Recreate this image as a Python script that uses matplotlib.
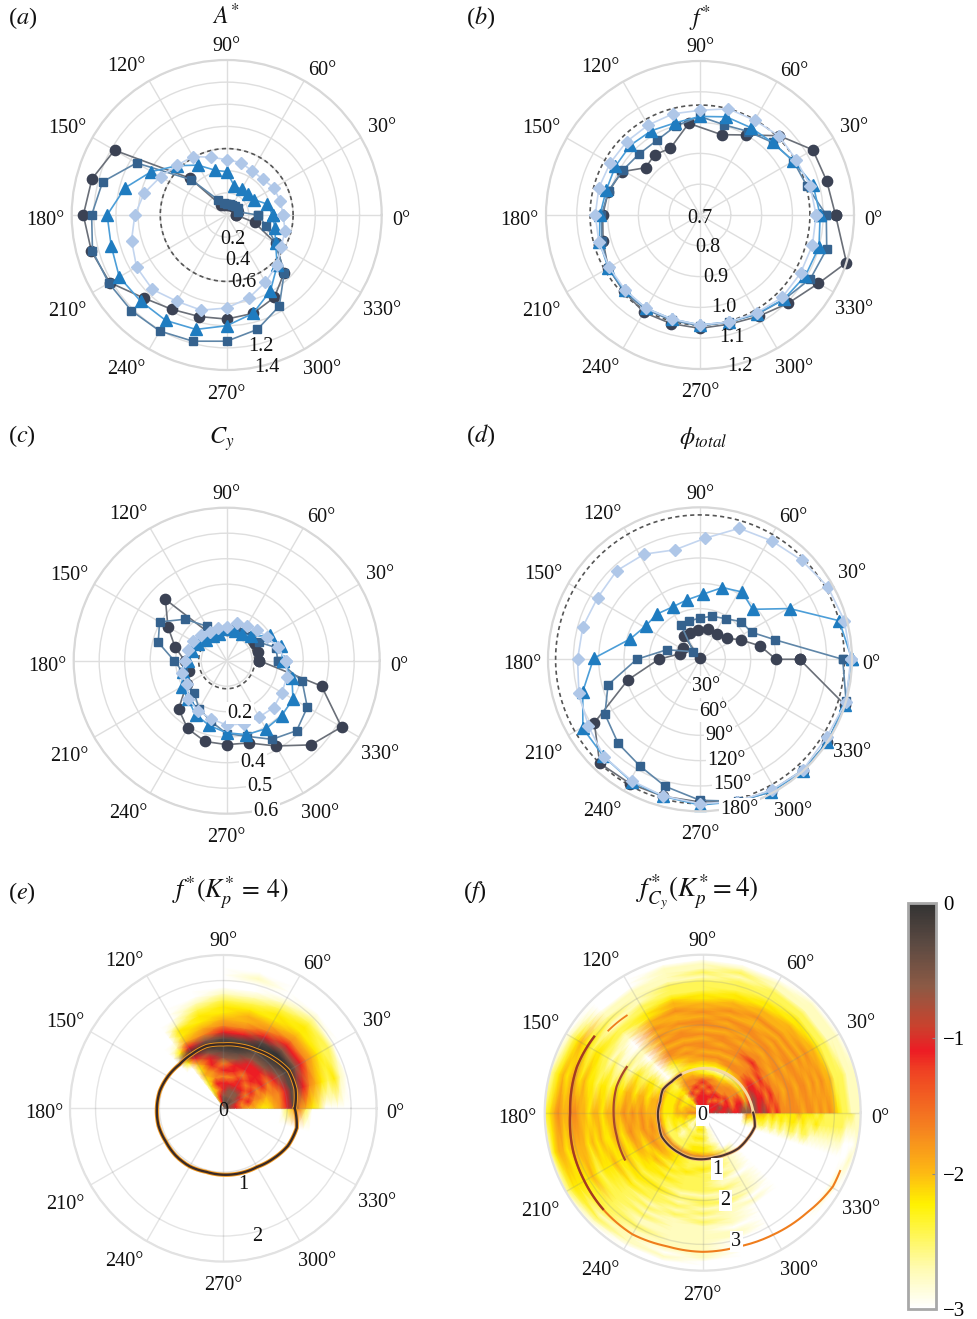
import numpy as np
import matplotlib
matplotlib.use("Agg")
import matplotlib.pyplot as plt
from matplotlib.colors import LinearSegmentedColormap
from matplotlib.cm import ScalarMappable
from matplotlib.colors import Normalize

plt.rcParams['font.family'] = ['Liberation Serif', 'DejaVu Serif']
plt.rcParams['mathtext.fontset'] = 'stix'

W, H = 977, 1319

# ===== Data =====
theta_15 = list(range(0, 360, 15))
angle_labels = [0, 30, 60, 90, 120, 150, 180, 210, 240, 270, 300, 330]
# where the angle labels sit, in units of the panel radius
label_dx = [1.125, 1.0, .615, 0, -.645, -1.03, -1.17, -1.03, -.645, 0, .613, 1.0]
label_dy = [-.035, .565, .935, 1.085, .955, .56, -.035, -.625, -1.0, -1.155, -1.0, -.615]

# (a) A*
a_circle = [.085, .11, .11, .10, .09, .09, .09, .09, .10, .47, 1.17, 1.26, 1.295, 1.265, 1.22, 1.06,
            .985, .95, .94, .92, .86, .735, .51, .26]
a_square = [.28, .11, .12, .11, .10, .10, .10, .11, .16, .45, .94, 1.16, 1.22, 1.255, 1.23, 1.22,
            1.21, 1.18, 1.14, 1.07, .95, .735, .51, .37]
a_triangle = [.415, .38, .28, .27, .27, .27, .39, .42, .52, .63, .785, .95, 1.08, 1.08, 1.12, 1.10,
              1.10, 1.07, 1.0, .92, .79, .645, .51, .45]
a_diamond = [.51, .50, .49, .46, .46, .49, .50, .54, .61, .635, .69, .77, .83, .89, .94, .95,
             .90, .89, .84, .775, .70, .64, .57, .545]

# (b) f*
b_circle_theta = [0, 15, 30, 45, 60, 75, 97, 114, 127, 139, 151, 166, 180, 195, 210, 225, 240, 255,
                  270, 285, 300, 315, 330, 342]
b_circle = [1.14, 1.126, 1.123, 1.064, 1.0, .97, 1.0, .937, .945, .934, .99, 1.007, 1.016, 1.026,
            1.044, 1.05, 1.065, 1.065, 1.068, 1.067, 1.08, 1.105, 1.144, 1.20]
b_square = [1.11, 1.06, 1.05, 1.033, 1.013, 1.003, 1.02, 1.0, .98, .98, .99, 1.007, 1.02, 1.03,
            1.044, 1.05, 1.054, 1.054, 1.06, 1.06, 1.072, 1.087, 1.114, 1.126]
b_triangle = [1.09, 1.08, 1.05, 1.033, 1.028, 1.03, 1.02, 1.01, 1.016, 1.02, 1.017, 1.015, 1.025,
              1.038, 1.044, 1.046, 1.05, 1.05, 1.057, 1.06, 1.07, 1.086, 1.095, 1.10]
b_diamond = [1.077, 1.07, 1.06, 1.063, 1.055, 1.057, 1.04, 1.04, 1.037, 1.037, 1.037, 1.04, 1.04,
             1.04, 1.04, 1.044, 1.05, 1.05, 1.057, 1.06, 1.067, 1.078, 1.077, 1.078]

# (c) Cy
c_circle = [.128, .128, .128, .13, .125, .125, .12, .115, .115, .34, .266, .21, .165, .155, .18,
            .267, .307, .328, .329, .334, .386, .467, .52, .385]
c_square = [.20, .20, .145, .13, .13, .13, .125, .12, .156, .23, .304, .278, .206, .177, .184, .18,
            .217, .245, .286, .307, .356, .388, .365, .306]
c_triangle = [.22, .22, .198, .135, .12, .12, .125, .11, .11, .115, .13, .14, .15, .176, .204, .215,
              .244, .263, .283, .30, .308, .305, .30, .265]
c_diamond = [.233, .207, .184, .17, .158, .155, .134, .133, .13, .144, .154, .156, .164, .18, .182,
             .212, .227, .235, .253, .256, .255, .26, .25, .245]

# (d) phi_total
d_circle_theta = [0, 0, 12.5, 25, 37.5, 55.6, 74.5, 93, 110, 125, 100, 146.6, 165, 180, 196, 211,
                  226, 240.7, 255, 270, 284.5, 298, 312.6, 327, 342.5]
d_circle = [118, 90, 73, 54, 41, 36, 37, 35, 33, 34, 2, 24, 25, 49, 89, 146, 171, 169, 168, 169,
            174, 178, 180, 180, 180]
d_square_theta = [0, 14.5, 27.6, 42.6, 57.5, 74, 90, 105.5, 119, 131, 164, 180, 195.5, 210, 225.8,
                  240.6, 254.7, 270, 285, 298.6, 313, 327, 344]
d_square = [169, 92, 69, 66, 57, 53, 49, 47, 46.5, 12, 41, 75, 113, 130, 139, 145, 156, 167, 174,
            177, 179, 180, 180]
d_triangle_theta = [0, 15.5, 29.5, 43.5, 58, 72.7, 87.7, 102.7, 117.7, 133.7, 148.5, 163.7, 179.5,
                    195.4, 210.5, 225, 240.8, 255, 270, 284.5, 298, 312.6, 327, 342.5]
d_triangle = [180, 171, 122, 86, 94, 89, 77, 72, 70, 74, 75.5, 86, 126, 144, 161, 162, 166, 168,
              172.6, 174, 178, 180, 180, 180]
d_diamond_theta = [0, 15, 29.7, 44.3, 58.8, 73.3, 87.6, 102.9, 118, 133.3, 149, 164.4, 180, 195.7,
                   210.8, 225.4, 240.6, 255, 270, 284.5, 298.7, 312.8, 328.6, 343.8]
d_diamond = [178.5, 177, 174, 168, 164, 162, 143.5, 133, 141, 144, 141.5, 144, 145, 149, 154, 162,
             165, 167.6, 171, 174, 176.6, 179, 176, 180]

# (e) spectrum levels, rows = theta, columns = frequency
levels = [-3, -2.75, -2.45, -2.2, -1.95, -1.7, -1.1, -0.6, -0.3, 0]
e_freq = [i / 10 for i in range(23)]
e_theta = [-15, -0.5, 0, 15, 30, 45, 60, 75, 90, 105, 120, 128, 135]
e_levels = [
    [0, 0, 0, 0, 0, 0, 0, 0, 0, 0, 0, 0, 0, 0, 0, 0, 0, 0, 0, 0, 0, 0, 0],
    [0, 0, 0, 0, 0, 0, 0, 0, 0, 0, 2, 4, 5, 2, 0, 0, 0, 0, 0, 0, 0, 0, 0],
    [8, 7, 6, 5, 4, 4, 3, 3, 4, 5, 6, 8, 5, 4, 3, 2, 0, 0, 0, 0, 0, 0, 0],
    [8, 7, 6, 5, 6, 5, 5, 4, 5, 5, 6, 8, 7, 6, 5, 4, 3, 2, 3, 1, 0, 0, 0],
    [8, 7, 7, 6, 5, 6, 5, 6, 5, 6, 7, 8, 9, 7, 6, 5, 4, 3, 2, 2, 0, 0, 0],
    [8, 8, 7, 7, 6, 5, 6, 6, 6, 7, 8, 9, 9, 7, 6, 5, 4, 3, 3, 2, 1, 0, 0],
    [8, 8, 7, 7, 6, 6, 5, 6, 6, 7, 8, 9, 8, 6, 5, 4, 3, 3, 2, 1, 0, 0, 0],
    [8, 8, 7, 7, 6, 5, 6, 6, 7, 8, 9, 8, 6, 5, 4, 4, 3, 2, 1, 0, 0, 1, 0],
    [8, 8, 7, 6, 6, 5, 6, 5, 7, 8, 9, 8, 6, 5, 4, 3, 3, 2, 1, 0, 0, 0, 0],
    [7, 6, 6, 5, 6, 5, 5, 6, 6, 7, 9, 7, 5, 4, 3, 3, 2, 1, 0, 0, 0, 0, 0],
    [5, 4, 4, 3, 3, 3, 4, 3, 4, 6, 9, 6, 4, 3, 3, 1, 0, 0, 0, 0, 0, 0, 0],
    [0, 0, 0, 0, 0, 0, 0, 0, 0, 3, 7, 3, 1, 0, 0, 0, 0, 0, 0, 0, 0, 0, 0],
    [0, 0, 0, 0, 0, 0, 0, 0, 0, 0, 0, 0, 0, 0, 0, 0, 0, 0, 0, 0, 0, 0, 0],
]
e_ridge_theta = theta_15 + [360]
e_ridge = [1.12, 1.17, 1.18, 1.11, 1.05, 1.02, 1.0, 1.01, .98, .97, 1.0, 1.03, 1.04, 1.05, 1.04,
           1.05, 1.05, 1.03, 1.04, 1.05, 1.06, 1.11, 1.17, 1.19, 1.12]

# (f) spectrum levels
f_freq = [i / 10 for i in range(37)]
f_theta = [-30, -18, -12, -6, -0.5, 0, 15, 30, 45, 60, 75, 90, 105, 120, 135, 150, 165, 180, 195,
           210, 225, 240, 255, 270, 285, 300, 315, 330]
f_levels = [
    [0] * 34 + [1, 0, 0],
    [0] * 35 + [1, 0],
    [0] * 10 + [2, 1, 1, 2, 2, 1, 2, 1, 2, 1, 2, 2, 1, 2, 2, 1, 1, 1, 1, 1, 1, 1, 1, 0, 0, 0, 1],
    [0] * 10 + [4, 3, 3, 3, 3, 2, 3, 2, 3, 2, 3, 3, 2, 3, 2, 2, 3, 2, 2, 2, 2, 2, 2, 1, 1, 1, 1],
    [0] * 10 + [5, 5, 4, 4, 4, 3, 4, 3, 3, 3, 3, 3, 4, 3, 3, 3, 2, 3, 2, 2, 2, 2, 2, 2, 2, 1, 1],
    [7, 7, 6, 7, 6, 6, 7, 6, 6, 7, 7, 7, 7, 6, 7, 6, 5, 6, 5, 5, 5, 5, 5, 4, 5, 5, 4, 5, 4, 5, 4, 3, 2, 2, 1, 1, 1],
    [7, 7, 6, 6, 7, 6, 6, 5, 6, 6, 4, 6, 7, 6, 6, 5, 6, 5, 5, 4, 5, 5, 4, 5, 5, 4, 5, 4, 5, 4, 4, 2, 2, 2, 1, 1, 1],
    [7, 6, 6, 6, 6, 5, 6, 5, 5, 5, 3, 5, 6, 6, 5, 6, 5, 5, 4, 5, 5, 4, 5, 5, 4, 5, 4, 5, 4, 4, 3, 2, 2, 1, 1, 1, 0],
    [7, 6, 6, 6, 5, 6, 5, 5, 5, 4, 2, 4, 5, 5, 5, 5, 6, 5, 5, 4, 5, 5, 4, 5, 4, 5, 4, 4, 4, 3, 3, 2, 2, 1, 1, 1, 0],
    [7, 6, 6, 5, 6, 6, 5, 5, 4, 3, 1, 3, 5, 5, 4, 5, 5, 5, 4, 5, 4, 5, 5, 4, 4, 5, 4, 4, 3, 3, 2, 2, 2, 1, 1, 0, 0],
    [7, 7, 6, 6, 6, 5, 6, 5, 5, 3, 1, 3, 4, 5, 4, 5, 4, 5, 5, 4, 5, 4, 5, 4, 5, 4, 4, 3, 3, 2, 2, 2, 1, 2, 1, 0, 0],
    [7, 7, 6, 6, 6, 6, 5, 6, 5, 3, 2, 3, 4, 5, 4, 5, 5, 4, 5, 4, 5, 5, 4, 5, 4, 4, 3, 3, 2, 2, 2, 1, 2, 1, 1, 0, 0],
    [6, 6, 6, 6, 6, 5, 6, 5, 5, 4, 3, 3, 4, 4, 5, 4, 5, 4, 5, 5, 4, 5, 4, 4, 5, 4, 4, 3, 2, 2, 2, 1, 1, 1, 1, 0, 0],
    [5, 5, 6, 6, 5, 6, 5, 5, 5, 4, 4, 2, 2, 3, 4, 5, 5, 4, 5, 4, 5, 4, 5, 4, 4, 3, 3, 2, 2, 1, 1, 1, 1, 0, 0, 0, 0],
    [3, 3, 2, 3, 3, 2, 3, 3, 2, 2, 3, 0, 0, 0, 0, 0, 1, 0, 0, 1, 1, 0, 0, 0, 1, 1, 2, 2, 1, 1, 2, 1, 1, 0, 0, 0, 0],
    [4, 3, 4, 4, 3, 3, 4, 3, 3, 3, 4, 3, 2, 3, 3, 2, 2, 3, 2, 1, 2, 1, 1, 2, 1, 2, 2, 3, 3, 2, 3, 3, 4, 3, 2, 1, 0],
    [5, 5, 4, 4, 4, 3, 4, 3, 3, 3, 5, 4, 4, 3, 4, 4, 3, 4, 4, 3, 3, 3, 2, 3, 3, 2, 3, 3, 4, 3, 4, 4, 3, 4, 3, 2, 1],
    [5, 5, 5, 5, 4, 4, 4, 3, 3, 3, 5, 4, 4, 4, 5, 4, 5, 4, 5, 4, 4, 4, 4, 3, 4, 4, 3, 4, 4, 5, 5, 4, 4, 5, 4, 3, 2],
    [3, 4, 4, 3, 4, 3, 3, 3, 2, 3, 5, 4, 5, 4, 5, 4, 4, 5, 4, 3, 4, 4, 3, 3, 4, 3, 4, 3, 4, 4, 4, 4, 3, 4, 4, 3, 1],
    [2, 2, 3, 3, 2, 3, 2, 3, 2, 2, 5, 4, 4, 5, 4, 3, 4, 4, 3, 3, 4, 3, 3, 4, 3, 3, 3, 2, 3, 4, 3, 3, 3, 3, 3, 2, 1],
    [2, 2, 1, 1, 1, 2, 1, 1, 2, 2, 5, 3, 4, 4, 3, 4, 3, 3, 3, 2, 3, 3, 2, 3, 2, 2, 2, 2, 2, 2, 2, 2, 2, 1, 2, 1, 0],
    [1, 1, 2, 2, 1, 2, 2, 2, 2, 2, 5, 3, 3, 3, 2, 3, 2, 3, 2, 2, 3, 2, 2, 2, 1, 2, 1, 2, 1, 1, 2, 1, 1, 1, 1, 0, 0],
    [2, 2, 2, 2, 3, 2, 3, 2, 3, 3, 5, 2, 2, 2, 3, 2, 2, 2, 2, 1, 2, 1, 2, 1, 2, 1, 1, 1, 1, 1, 1, 1, 1, 0, 1, 0, 0],
    [3, 2, 3, 2, 3, 2, 3, 2, 3, 3, 5, 2, 2, 3, 2, 2, 2, 2, 2, 1, 2, 2, 1, 2, 1, 2, 1, 1, 1, 1, 1, 1, 1, 1, 0, 0, 0],
    [0, 0, 0, 0, 1, 1, 1, 1, 2, 2, 4, 1, 2, 2, 1, 2, 1, 1, 2, 1, 1, 2, 1, 1, 1, 1, 1, 0, 1, 1, 0, 0, 0, 0, 0, 0, 0],
    [0, 0, 0, 0, 0, 0, 0, 0, 0, 0, 2, 1, 1, 1, 1, 1, 0, 1, 1, 1, 1, 1, 0, 1, 0, 0, 0, 0, 0, 0, 0, 0, 0, 0, 0, 0, 0],
    [0] * 37,
    [0] * 34 + [1, 0, 0],
]
f_inner_theta = [120, 135, 150, 165, 180, 195, 210, 225, 240, 255, 270, 285, 300, 315, 330, 345, 360]
f_inner_r = [1.0, 1.0, 1.05, 1.0, 1.02, 1.03, 1.08, 1.07, 1.06, 1.07, 1.06, 1.05, 1.09, 1.15,
             1.18, 1.23, 1.15]
f_pale_theta = [0, 15, 30, 45, 60, 75, 90, 105, 120]
f_pale_r = [1.15, 1.11, 1.08, 1.06, 1.04, 1.02, 1.01, 1.0, 1.0]
f_mid_theta = [149, 163, 180, 195, 211]
f_mid_r = [2.02, 2.05, 2.03, 2.03, 2.07]
f_outer_theta = [145, 160, 180, 197, 209, 224, 240, 255, 270, 285.6, 300, 316, 330.5, 337]
f_outer_r = [3.02, 3.05, 3.02, 3.08, 3.11, 3.16, 3.2, 3.15, 3.17, 3.16, 3.21, 3.29, 3.41, 3.4]
f_arc_theta = [128, 139]
f_arc_r = [2.81, 2.85]

# ===== Styles =====
circle_style = dict(color='#6a6f78', marker='o', mfc='#3b4254', mec='#3b4254', ms=7.4, lw=1.2)
square_style = dict(color='#5f86a8', marker='s', mfc='#35628e', mec='#35628e', ms=5.6, lw=1.2)
triangle_style = dict(color='#4c9ed8', marker='^', mfc='#1f7cc0', mec='#1f7cc0', ms=8.0, lw=1.2)
diamond_style = dict(color='#c3d5ef', marker='D', mfc='#afc7e8', mec='#afc7e8', ms=5.9, lw=1.2)


def polar_axes(cx, cy, R):
    ax = fig.add_axes([(cx - R) / W, 1 - (cy + R) / H, 2 * R / W, 2 * R / H], polar=True)
    ax.set_xticks(np.deg2rad(angle_labels))
    ax.set_xticklabels([])
    ax.grid(True, color='#dedede', lw=1.0)
    ax.spines['polar'].set_color('#d8d8d8')
    ax.spines['polar'].set_linewidth(1.6)
    ax.tick_params(length=0)
    for a, dx, dy in zip(angle_labels, label_dx, label_dy):
        ax.text(0.5 + 0.5 * dx, 0.5 + 0.5 * dy, f"{a}°", transform=ax.transAxes,
                ha='center', va='center', fontsize=14.5, color='#111111')
    return ax


def closed(theta, r):
    t = np.deg2rad(list(theta) + [theta[0]])
    return t, list(r) + [r[0]]


def line_panel(ax, rmin, rmax, rings, series, dashed, labels, bbox=False):
    ax.set_ylim(rmin, rmax)
    ax.set_yticks(rings)
    ax.set_yticklabels([])
    for theta, r, style in series:
        t, v = closed(theta, r)
        ax.plot(t, v, clip_on=False, **style)
    full = np.linspace(0, 2 * np.pi, 200)
    ax.plot(full, [dashed] * 200, color='#555555', lw=1.2, ls=(0, (2.5, 2)), zorder=1.8)
    radial_labels(ax, labels, bbox)


def radial_labels(ax, labels, bbox=False):
    for value, text in labels:
        kw = dict(bbox=dict(fc='white', ec='none', pad=0.8)) if bbox else {}
        ax.annotate(text, (np.deg2rad(285), value), xytext=(0, -2.2), textcoords='offset points',
                    ha='center', va='center', fontsize=14.5, color='#111111', zorder=10, **kw)


def arc(ax, theta, r, **kw):
    # let the segment follow the polar grid instead of a straight chord
    line, = ax.plot(np.deg2rad(theta), r, **kw)
    line.get_path()._interpolation_steps = 16
    return line


def faint_grid(ax):
    ax.grid(True, color='#888888', alpha=0.22, lw=1.0)
    ax.spines['polar'].set_color('#e2e2e2')


def label(x, y, s, size=15, ha='left'):
    fig.text(x / W, 1 - y / H, s, ha=ha, va='center', fontsize=size, color='#111111')


# ===== Figure =====
fig = plt.figure(figsize=(W / 100, H / 100), dpi=100)

ax_a = polar_axes(226.7, 215, 155)
line_panel(ax_a, 0, 1.4, [.2, .4, .6, .8, 1.0, 1.2, 1.4],
           [(theta_15, a_circle, circle_style), (theta_15, a_square, square_style),
            (theta_15, a_triangle, triangle_style), (theta_15, a_diamond, diamond_style)],
           0.6, [(.2, '0.2'), (.4, '0.4'), (.6, '0.6'), (1.2, '1.2'), (1.4, '1.4')])

ax_b = polar_axes(700, 215, 154)
line_panel(ax_b, 0.7, 1.2, [.8, .9, 1.0, 1.1, 1.2],
           [(b_circle_theta, b_circle, circle_style), (theta_15, b_square, square_style),
            (theta_15, b_triangle, triangle_style), (theta_15, b_diamond, diamond_style)],
           1.057, [(.7, '0.7'), (.8, '0.8'), (.9, '0.9'), (1.0, '1.0'), (1.1, '1.1'), (1.2, '1.2')])

ax_c = polar_axes(226.7, 660.7, 153)
line_panel(ax_c, 0, 0.6, [.1, .2, .3, .4, .5, .6],
           [(theta_15, c_circle, circle_style), (theta_15, c_square, square_style),
            (theta_15, c_triangle, triangle_style), (theta_15, c_diamond, diamond_style)],
           0.11, [(.2, '0.2'), (.4, '0.4'), (.5, '0.5'), (.6, '0.6')], bbox=True)

ax_d = polar_axes(700, 659.3, 152)
line_panel(ax_d, 0, 180, [30, 60, 90, 120, 150, 180],
           [(d_circle_theta, d_circle, circle_style), (d_square_theta, d_square, square_style),
            (d_triangle_theta, d_triangle, triangle_style), (d_diamond_theta, d_diamond, diamond_style)],
           171, [(30, '30°'), (60, '60°'), (90, '90°'), (120, '120°'), (150, '150°'), (180, '180°')],
           bbox=True)

cmap = LinearSegmentedColormap.from_list('spectrum', [
    (0.0, '#ffffff'), (0.10, '#fffbb0'), (0.257, '#fff200'), (0.335, '#fdb913'), (0.445, '#f58220'),
    (0.59, '#ef4023'), (0.637, '#ed1c24'), (0.70, '#c8432e'), (0.796, '#8c5a45'), (0.90, '#5c4a42'),
    (1.0, '#333333')])

ax_e = polar_axes(223.3, 1108.3, 153.3)
faint_grid(ax_e)
ax_e.set_ylim(0, 2.4)
ax_e.set_yticks([1, 2, 2.4])
ax_e.set_yticklabels([])
ax_e.pcolormesh(np.deg2rad(e_theta), e_freq, np.array(levels)[np.array(e_levels)].T,
                shading='gouraud', cmap=cmap, vmin=-3, vmax=0)
arc(ax_e, e_ridge_theta, e_ridge, color='#f59a1e', lw=3.0)
arc(ax_e, e_ridge_theta, e_ridge, color='#3a2a26', lw=1.7)
radial_labels(ax_e, [(0, '0'), (1.19, '1'), (2.03, '2')])

ax_f = polar_axes(702.7, 1112.7, 158)
faint_grid(ax_f)
ax_f.set_ylim(0, 3.6)
ax_f.set_yticks([1, 2, 3, 3.6])
ax_f.set_yticklabels([])
ax_f.pcolormesh(np.deg2rad(f_theta), f_freq, np.array(levels)[np.array(f_levels)].T,
                shading='gouraud', cmap=cmap, vmin=-3, vmax=0)
arc(ax_f, f_pale_theta, f_pale_r, color='#f7d9a0', lw=2.0)
arc(ax_f, f_inner_theta, f_inner_r, color='#efb27a', lw=2.6)
arc(ax_f, f_inner_theta, f_inner_r, color='#4a332c', lw=1.5)
arc(ax_f, f_mid_theta, f_mid_r, color='#a8472b', lw=1.6)
arc(ax_f, f_outer_theta, f_outer_r, color='#ef7d1d', lw=1.5)
arc(ax_f, f_outer_theta[:6], f_outer_r[:6], color='#a23b22', lw=1.7)
arc(ax_f, f_arc_theta, f_arc_r, color='#ef7d1d', lw=1.3)
radial_labels(ax_f, [(0, '0'), (1.26, '1'), (2, '2'), (2.97, '3')], bbox=True)

# ===== Colour bar =====
cax = fig.add_axes([908 / W, 1 - 1309 / H, 28 / W, 406 / H])
cb = fig.colorbar(ScalarMappable(Normalize(-3, 0), cmap), cax=cax)
cb.set_ticks([0, -1, -2, -3])
cb.set_ticklabels(['0', '\u22121', '\u22122', '\u22123'])
cb.ax.tick_params(labelsize=15, length=3, width=0.8, color='#888888', direction='in', pad=5)
cb.outline.set_edgecolor('#a8a8a8')
cb.outline.set_linewidth(2)

# ===== Titles =====
label(8, 18, '($a$)', 17.5)
label(466, 18, '($b$)', 17.5)
label(8, 436, '($c$)', 17.5)
label(466, 436, '($d$)', 17.5)
label(8, 893, '($e$)', 17.5)
label(463, 892, '($f$)', 17.5)
label(226, 16, r'$A^{*}$', 17, 'center')
label(700, 19, r'$f^{*}$', 17, 'center')
label(222, 439, r'$C_{y}$', 17.5, 'center')
label(703, 438, r'$\phi_{total}$', 17.5, 'center')
label(230, 893, r'$f^{*}(K_{p}^{*}\,=\,4)$', 18.5, 'center')
label(697, 892, r'$f^{*}_{C_{y}}(K_{p}^{*}=4)$', 19.5, 'center')

fig.savefig('out.png', dpi=100)
